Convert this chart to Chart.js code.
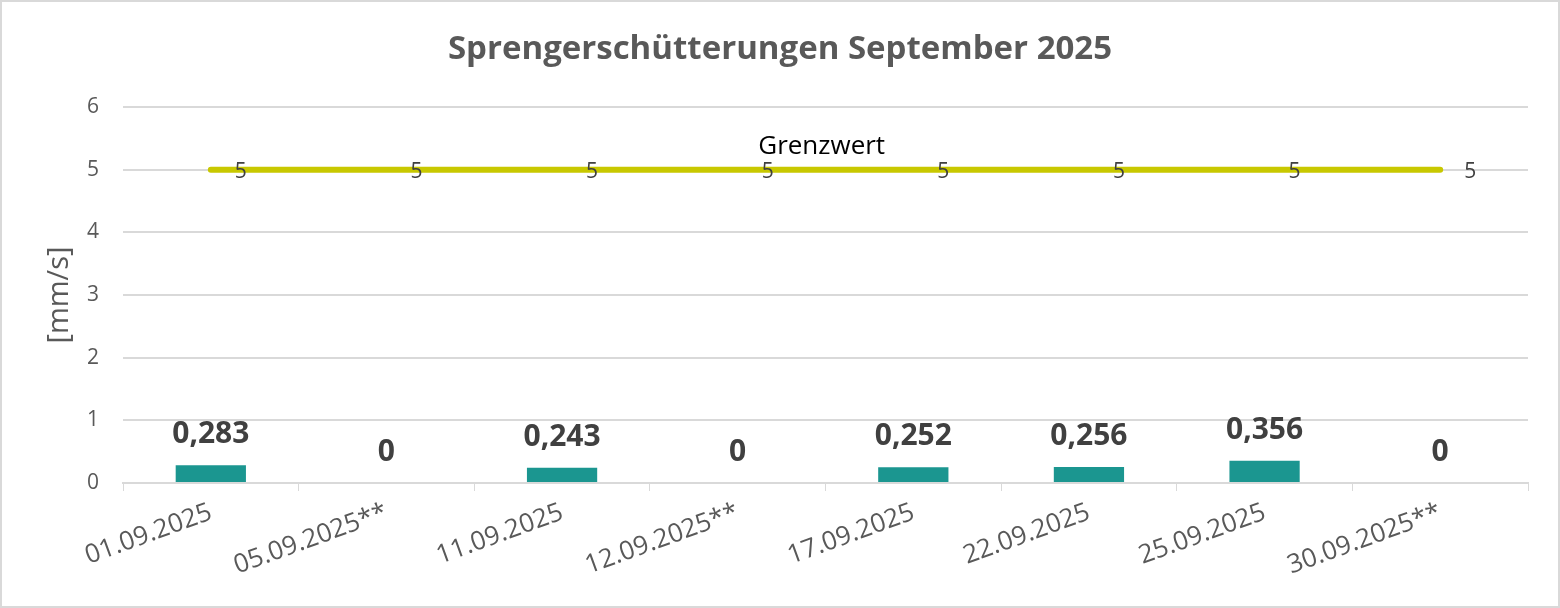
<!DOCTYPE html>
<html lang="de">
<head>
    <meta charset="UTF-8">
    <title>Sprengerschütterungen September 2025</title>
    <script src="https://cdn.jsdelivr.net/npm/chart.js"></script>
    <style>
        html, body { margin: 0; padding: 0; background: #fff; }
        #wrap { width: 1560px; height: 608px; }
    </style>
</head>
<body>
    <div id="wrap"><canvas id="chart"></canvas></div>

    <script>
        // Daten
        const chartTitle = 'Sprengerschütterungen September 2025';
        const dates = ['01.09.2025', '05.09.2025**', '11.09.2025', '12.09.2025**', '17.09.2025', '22.09.2025', '25.09.2025', '30.09.2025**'];
        const messwerte = [0.283, 0, 0.243, 0, 0.252, 0.256, 0.356, 0];
        const grenzwert = [5, 5, 5, 5, 5, 5, 5, 5];
        const yTicks = [0, 1, 2, 3, 4, 5, 6];

        const FONT = "'Open Sans', 'Noto Sans', sans-serif";
        const fmt = v => String(v).replace('.', ',');

        // weißer Hintergrund, grauer Rahmen und Titel (über die ganze Breite zentriert)
        const background = {
            id: 'background',
            beforeDraw(chart) {
                const c = chart.ctx;
                c.save();
                c.fillStyle = '#fff';
                c.fillRect(0, 0, chart.width, chart.height);
                c.strokeStyle = '#d9d9d9';
                c.lineWidth = 2;
                c.strokeRect(1, 1, chart.width - 2, chart.height - 2);
                c.font = "bold 33px " + FONT;
                c.fillStyle = '#595959';
                c.textAlign = 'center';
                c.textBaseline = 'middle';
                c.fillText(chartTitle, chart.width / 2, 50);
                c.restore();
            }
        };

        // Beschriftungen der Balken und der Grenzwertlinie
        const valueLabels = {
            id: 'valueLabels',
            afterDatasetsDraw(chart) {
                const c = chart.ctx;
                c.save();
                // Balken
                c.font = "bold 30px " + FONT;
                c.fillStyle = '#404040';
                c.textAlign = 'center';
                c.textBaseline = 'alphabetic';
                chart.getDatasetMeta(0).data.forEach((bar, i) => {
                    c.fillText(fmt(messwerte[i]), bar.x, bar.y - 22);
                });
                // Grenzwert
                c.font = "21px " + FONT;
                c.textAlign = 'left';
                c.textBaseline = 'middle';
                const pts = chart.getDatasetMeta(1).data;
                pts.forEach((p, i) => {
                    c.fillText(fmt(grenzwert[i]), p.x + 24, p.y + 2);
                });
                c.font = "26px " + FONT;
                c.fillStyle = '#000';
                c.textAlign = 'center';
                c.textBaseline = 'middle';
                c.fillText('Grenzwert', pts[3].x + 84, pts[3].y - 23);
                c.restore();
            }
        };

        new Chart(document.getElementById('chart'), {
            data: {
                labels: dates,
                datasets: [
                    {
                        type: 'bar',
                        label: 'Messwert',
                        data: messwerte,
                        backgroundColor: '#1b9690',
                        barPercentage: 0.4,
                        categoryPercentage: 1,
                        order: 2
                    },
                    {
                        type: 'line',
                        label: 'Grenzwert',
                        data: grenzwert,
                        borderColor: '#c8c800',
                        borderWidth: 6,
                        borderCapStyle: 'round',
                        pointRadius: 0,
                        order: 1
                    }
                ]
            },
            options: {
                responsive: true,
                maintainAspectRatio: false,
                animation: false,
                layout: { padding: { left: 2, right: 32, top: 107, bottom: 0 } },
                plugins: {
                    legend: { display: false },
                    tooltip: { enabled: false },
                    title: { display: false }
                },
                scales: {
                    x: {
                        offset: true,
                        grid: {
                            offset: true,
                            drawOnChartArea: false,
                            tickLength: 8,
                            color: '#d9d9d9'
                        },
                        border: { color: '#d9d9d9', width: 2 },
                        ticks: {
                            color: '#595959',
                            font: { family: FONT, size: 26 },
                            minRotation: 20,
                            maxRotation: 20,
                            padding: 6
                        },
                        afterFit(scale) { scale.height = 125; }
                    },
                    y: {
                        min: 0,
                        max: 6,
                        afterBuildTicks(scale) { scale.ticks = yTicks.map(v => ({ value: v })); },
                        grid: { color: '#d9d9d9', lineWidth: 2, drawTicks: false },
                        border: { display: false },
                        ticks: {
                            color: '#595959',
                            font: { family: FONT, size: 21 },
                            padding: 24
                        },
                        title: {
                            display: true,
                            text: '[mm/s]',
                            color: '#595959',
                            font: { family: FONT, size: 29 },
                            padding: { top: 40, bottom: 0 }
                        },
                        afterFit(scale) { scale.width = 121; }
                    }
                }
            },
            plugins: [background, valueLabels]
        });
    </script>
</body>
</html>
